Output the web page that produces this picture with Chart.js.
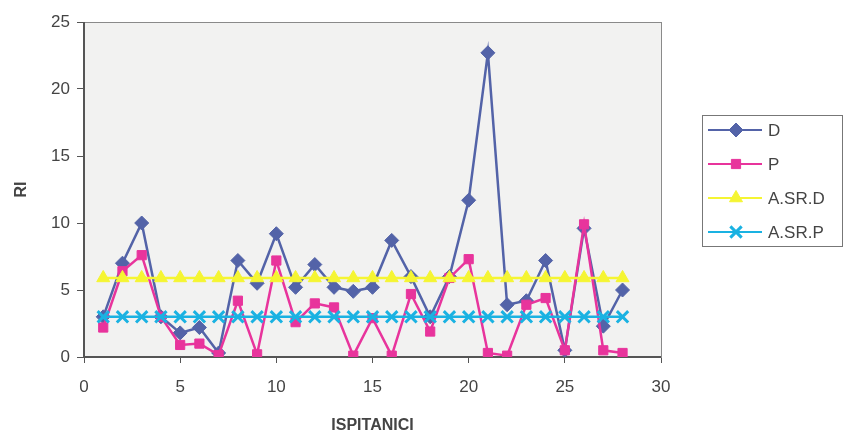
<!DOCTYPE html>
<html>
<head>
<meta charset="utf-8">
<script src="https://cdn.jsdelivr.net/npm/chart.js@4.4.0/dist/chart.umd.min.js"></script>
<style>
  html, body { margin: 0; padding: 0; background: #fff; }
  #wrap { width: 845px; height: 435px; position: relative; }
</style>
</head>
<body>
<div id="wrap"><canvas id="riChart"></canvas></div>
<script>
// ispitanici (x) i vrijednosti RI
const ispitanici = [1, 2, 3, 4, 5, 6, 7, 8, 9, 10, 11, 12, 13, 14, 15, 16, 17, 18, 19, 20, 21, 22, 23, 24, 25, 26, 27, 28];
const valuesD = [3.0, 7.0, 10.0, 3.0, 1.8, 2.2, 0.3, 7.2, 5.5, 9.2, 5.2, 6.9, 5.2, 4.9, 5.2, 8.7, 6.0, 3.0, 6.0, 11.7, 22.7, 3.9, 4.2, 7.2, 0.5, 9.6, 2.3, 5.0];
const valuesP = [2.2, 6.4, 7.6, 3.0, 0.9, 1.0, 0.15, 4.2, 0.2, 7.2, 2.6, 4.0, 3.7, 0.1, 2.9, 0.1, 4.7, 1.9, 5.9, 7.3, 0.3, 0.1, 3.9, 4.4, 0.5, 9.9, 0.5, 0.3];
const valuesASRD = [5.9, 5.9, 5.9, 5.9, 5.9, 5.9, 5.9, 5.9, 5.9, 5.9, 5.9, 5.9, 5.9, 5.9, 5.9, 5.9, 5.9, 5.9, 5.9, 5.9, 5.9, 5.9, 5.9, 5.9, 5.9, 5.9, 5.9, 5.9];
const valuesASRP = [3.0, 3.0, 3.0, 3.0, 3.0, 3.0, 3.0, 3.0, 3.0, 3.0, 3.0, 3.0, 3.0, 3.0, 3.0, 3.0, 3.0, 3.0, 3.0, 3.0, 3.0, 3.0, 3.0, 3.0, 3.0, 3.0, 3.0, 3.0];

const seriesNames = ['D', 'P', 'A.SR.D', 'A.SR.P'];
const xTicks = [0, 5, 10, 15, 20, 25, 30];
const yTicks = [0, 5, 10, 15, 20, 25];

const FONT = "'Liberation Sans', Arial, sans-serif";
const TEXT = '#444';

function toPoints(vals) {
    return vals.map((v, i) => ({ x: ispitanici[i], y: v }));
}

// pozadina i okvir podrucja crtanja
const plotFrame = {
    id: 'plotFrame',
    beforeDatasetsDraw(chart) {
        const { ctx, chartArea: a } = chart;
        ctx.save();
        ctx.fillStyle = '#f2f2f1';
        ctx.fillRect(a.left, a.top, a.width, a.height);
        ctx.strokeStyle = '#8a8a8a';
        ctx.lineWidth = 1;
        ctx.strokeRect(a.left + 0.5, a.top + 0.5, a.width, a.height);
        ctx.strokeStyle = '#555';
        ctx.lineWidth = 2;
        ctx.beginPath();
        ctx.moveTo(a.left, a.top);
        ctx.lineTo(a.left, a.bottom);
        ctx.lineTo(a.right, a.bottom);
        ctx.stroke();
        ctx.restore();
    }
};

// legenda s linijom i markerom, kao u Excelu
const boxLegend = {
    id: 'boxLegend',
    afterDraw(chart) {
        const { ctx } = chart;
        const x0 = 702, y0 = 115, w = 141, h = 132;
        ctx.save();
        ctx.fillStyle = '#fff';
        ctx.fillRect(x0, y0, w, h);
        ctx.strokeStyle = '#777';
        ctx.lineWidth = 1;
        ctx.strokeRect(x0 + 0.5, y0 + 0.5, w - 1, h - 1);
        chart.data.datasets.forEach((ds, i) => {
            const y = y0 + 15 + i * 34;
            ctx.strokeStyle = ds.borderColor;
            ctx.fillStyle = ds.borderColor;
            ctx.lineWidth = 2;
            ctx.beginPath();
            ctx.moveTo(x0 + 6, y);
            ctx.lineTo(x0 + 60, y);
            ctx.stroke();
            ctx.lineWidth = ds.pointBorderWidth;
            Chart.helpers.drawPoint(ctx, {
                pointStyle: ds.pointStyle,
                radius: ds.pointRadius,
                borderWidth: ds.pointBorderWidth
            }, x0 + 34, y);
            ctx.fillStyle = TEXT;
            ctx.font = '17px ' + FONT;
            ctx.textBaseline = 'middle';
            ctx.fillText(ds.label, x0 + 66, y + 1);
        });
        ctx.restore();
    }
};

function makeDataset(label, vals, color, style, radius, bw, order) {
    return {
        label: label,
        data: toPoints(vals),
        borderColor: color,
        backgroundColor: color,
        pointBackgroundColor: color,
        pointBorderColor: color,
        pointStyle: style,
        pointRadius: radius,
        pointBorderWidth: bw,
        borderWidth: 2.5,
        showLine: true,
        fill: false,
        order: order
    };
}

const ctx = document.getElementById('riChart').getContext('2d');
new Chart(ctx, {
    type: 'scatter',
    data: {
        datasets: [
            makeDataset(seriesNames[0], valuesD, '#5363a8', 'rectRot', 7, 1, 4),
            makeDataset(seriesNames[1], valuesP, '#e8349c', 'rect', 6.5, 1, 3),
            makeDataset(seriesNames[2], valuesASRD, '#f5f532', 'triangle', 7.5, 1, 2),
            makeDataset(seriesNames[3], valuesASRP, '#1ab2e2', 'crossRot', 8, 3, 1)
        ]
    },
    options: {
        responsive: true,
        maintainAspectRatio: false,
        animation: false,
        layout: { padding: { top: 22, right: 184, bottom: 0, left: 0 } },
        plugins: {
            legend: { display: false },
            tooltip: { enabled: false }
        },
        scales: {
            x: {
                type: 'linear',
                min: 0,
                max: 30,
                afterBuildTicks: axis => { axis.ticks = xTicks.map(v => ({ value: v })); },
                afterFit: axis => { axis.height = 78; },
                grid: { display: true, drawOnChartArea: false, tickLength: 6, color: '#555' },
                border: { display: false },
                ticks: { color: TEXT, font: { family: FONT, size: 17 }, padding: 14 },
                title: {
                    display: true,
                    text: 'ISPITANICI',
                    color: TEXT,
                    font: { family: FONT, size: 16, weight: 'bold' },
                    padding: { top: 8, bottom: 0 }
                }
            },
            y: {
                min: 0,
                max: 25,
                afterBuildTicks: axis => { axis.ticks = yTicks.map(v => ({ value: v })); },
                afterFit: axis => { axis.width = 84; },
                grid: { display: true, drawOnChartArea: false, tickLength: 7, color: '#555' },
                border: { display: false },
                ticks: { color: TEXT, font: { family: FONT, size: 17 }, padding: 7 },
                title: {
                    display: true,
                    text: 'RI',
                    color: TEXT,
                    font: { family: FONT, size: 16, weight: 'bold' },
                    padding: { top: 12, bottom: 0 }
                }
            }
        }
    },
    plugins: [plotFrame, boxLegend]
});
</script>
</body>
</html>
